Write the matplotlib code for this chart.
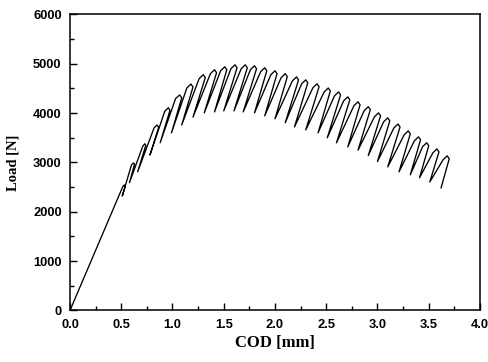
import matplotlib
matplotlib.use("Agg")

import matplotlib.pyplot as plt
from matplotlib.ticker import MultipleLocator


# loading / unloading cycles
# (COD in mm, load in N)
# reload reaches the envelope
reload_cod = [0.515, 0.60, 0.71, 0.82, 0.925, 1.03, 1.14, 1.26, 1.37, 1.47,
              1.57, 1.67, 1.76, 1.86, 1.96, 2.06, 2.17, 2.26, 2.37, 2.48,
              2.58, 2.67, 2.77, 2.87, 2.97, 3.06, 3.16, 3.26, 3.36, 3.44,
              3.54, 3.64]
reload_load = [2510, 2950, 3330, 3700, 4040, 4295, 4510, 4700, 4800, 4860,
               4900, 4900, 4880, 4840, 4780, 4720, 4655, 4595, 4515, 4430,
               4350, 4250, 4150, 4050, 3925, 3825, 3700, 3560, 3440, 3320,
               3195, 3055]

# top of each loop
peak_cod = [0.53, 0.62, 0.73, 0.85, 0.96, 1.07, 1.18, 1.30, 1.41, 1.51,
            1.61, 1.71, 1.80, 1.90, 2.00, 2.10, 2.21, 2.30, 2.41, 2.52,
            2.62, 2.71, 2.81, 2.91, 3.01, 3.10, 3.20, 3.30, 3.40, 3.48,
            3.58, 3.68]
peak_load = [2545, 2990, 3380, 3760, 4110, 4370, 4590, 4780, 4880, 4940,
             4980, 4980, 4960, 4920, 4860, 4800, 4735, 4675, 4595, 4510,
             4430, 4330, 4230, 4130, 4005, 3905, 3780, 3640, 3520, 3400,
             3275, 3135]

# start of unloading
unload_cod = [0.54, 0.63, 0.74, 0.865, 0.975, 1.09, 1.20, 1.32, 1.43, 1.53,
              1.63, 1.73, 1.82, 1.92, 2.02, 2.12, 2.23, 2.32, 2.43, 2.54,
              2.64, 2.73, 2.83, 2.93, 3.03, 3.12, 3.22, 3.32, 3.42, 3.50,
              3.60, 3.70]
unload_load = [2520, 2965, 3350, 3710, 4055, 4310, 4530, 4720, 4820, 4880,
               4920, 4920, 4900, 4860, 4800, 4740, 4675, 4615, 4535, 4450,
               4370, 4270, 4170, 4070, 3945, 3845, 3720, 3580, 3460, 3340,
               3215, 3075]

# end of unloading
valley_cod = [0.51, 0.58, 0.66, 0.78, 0.88, 0.99, 1.09, 1.20, 1.31, 1.41,
              1.50, 1.60, 1.69, 1.80, 1.90, 2.00, 2.10, 2.19, 2.30, 2.42,
              2.51, 2.60, 2.71, 2.81, 2.91, 3.00, 3.10, 3.21, 3.32, 3.41,
              3.51, 3.62]
valley_load = [2320, 2590, 2810, 3150, 3400, 3600, 3760, 3920, 4005, 4025,
               4045, 4045, 4025, 4005, 3945, 3885, 3805, 3720, 3660, 3600,
               3500, 3400, 3315, 3250, 3140, 3020, 2910, 2810, 2750, 2690,
               2605, 2485]

x_ticks = [0.0, 0.5, 1.0, 1.5, 2.0, 2.5, 3.0, 3.5, 4.0]
y_ticks = [0, 1000, 2000, 3000, 4000, 5000, 6000]


# one continuous test record: origin, then reload -> top -> unload per cycle
cod = [0.0]
load = [0.0]
for i in range(len(peak_cod)):
    cod += [reload_cod[i], peak_cod[i], unload_cod[i], valley_cod[i]]
    load += [reload_load[i], peak_load[i], unload_load[i], valley_load[i]]


fig = plt.figure(figsize=(4.89, 3.62), dpi=100)
ax = fig.add_axes([0.1431, 0.1423, 0.9816 - 0.1431, 0.96 - 0.1423])

ax.plot(cod, load, color="black", lw=0.95, solid_joinstyle="round")

ax.set_xlim(0, 4.0)
ax.set_ylim(0, 6000)

ax.set_xticks(x_ticks)
ax.set_xticklabels([f"{v:.1f}" for v in x_ticks])
ax.set_yticks(y_ticks)
ax.set_yticklabels([str(v) for v in y_ticks])

ax.xaxis.set_minor_locator(MultipleLocator(0.25))
ax.yaxis.set_minor_locator(MultipleLocator(500))

ax.tick_params(which="both", direction="in", top=False, right=False,
               width=1.0)
ax.tick_params(which="major", length=5, pad=6)
ax.tick_params(which="minor", length=3)

for lab in ax.get_xticklabels() + ax.get_yticklabels():
    lab.set_fontfamily("Liberation Sans")
    lab.set_fontweight("bold")
    lab.set_fontsize(9.3)

for sp in ax.spines.values():
    sp.set_linewidth(1.1)

ax.set_xlabel("COD [mm]", fontfamily="Liberation Serif", fontweight="bold",
              fontsize=12, labelpad=3)
ax.set_ylabel("Load [N]", fontfamily="Liberation Serif", fontweight="bold",
              fontsize=10.5, labelpad=10)

fig.savefig("out.png", dpi=100)
